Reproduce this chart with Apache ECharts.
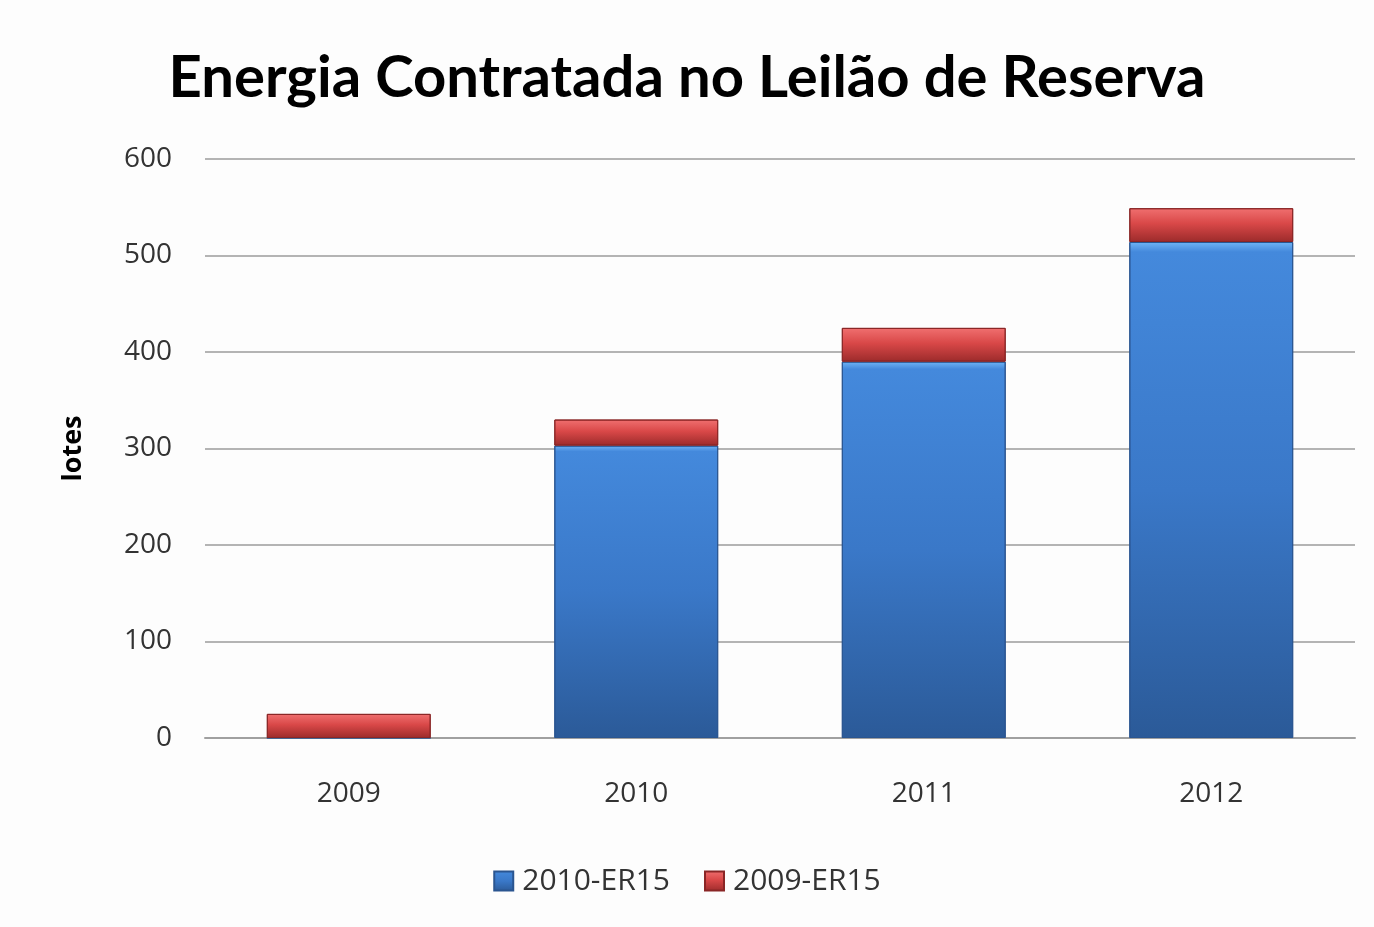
<!DOCTYPE html>
<html>
<head>
<meta charset="utf-8">
<script src="https://cdn.jsdelivr.net/npm/echarts@6/dist/echarts.min.js"></script>
<style>
  html, body { margin: 0; padding: 0; background: #fdfdfd; }
  #main { width: 1374px; height: 927px; }
</style>
</head>
<body>
<div id="main"></div>
<script>
// dados
var anos = ['2009', '2010', '2011', '2012']
var er2010 = [0, 303, 390, 514]
var er2009 = [25, 27, 35, 35]

var chart = echarts.init(document.getElementById('main'))

var azul = new echarts.graphic.LinearGradient(0, 0, 0, 1, [
  { offset: 0, color: '#70b4f5' },
  { offset: 0.02, color: '#4489dc' },
  { offset: 0.5, color: '#3a78c8' },
  { offset: 1, color: '#2b5a98' }
])
var vermelho = new echarts.graphic.LinearGradient(0, 0, 0, 1, [
  { offset: 0, color: '#f07070' },
  { offset: 0.45, color: '#d94848' },
  { offset: 1, color: '#9c2b2b' }
])

chart.setOption({
  backgroundColor: '#fdfdfd',
  title: {
    text: 'Energia Contratada no Leilão de Reserva',
    left: 'center',
    top: 44,
    textStyle: {
      fontFamily: 'Lato',
      fontWeight: 'bold',
      fontSize: 58,
      color: '#000'
    }
  },
  legend: {
    bottom: 26,
    left: 'center',
    itemWidth: 19,
    itemHeight: 19,
    itemGap: 34,
    icon: 'rect',
    textStyle: { fontFamily: 'Open Sans', fontSize: 30, color: '#333', padding: [0, 0, 0, 4] },
    data: ['2010-ER15', '2009-ER15']
  },
  grid: { left: 205, right: 19, top: 159, bottom: 189 },
  xAxis: {
    type: 'category',
    data: anos,
    axisLine: { lineStyle: { color: '#a0a0a0', width: 2 } },
    axisTick: { show: false },
    axisLabel: { fontFamily: 'Open Sans', fontSize: 28, color: '#333', margin: 42 }
  },
  yAxis: {
    type: 'value',
    min: 0,
    max: 600,
    interval: 100,
    name: 'lotes',
    nameLocation: 'middle',
    nameGap: 118,
    nameRotate: 90,
    nameTextStyle: { fontFamily: 'Open Sans', fontWeight: 'bold', fontSize: 27, color: '#000' },
    axisLine: { show: false },
    axisTick: { show: false },
    axisLabel: { fontFamily: 'Open Sans', fontSize: 28, color: '#333', margin: 33 },
    splitLine: { lineStyle: { color: '#b4b4b4', width: 2 } }
  },
  series: [
    {
      name: '2010-ER15',
      type: 'bar',
      stack: 'total',
      barWidth: '57%',
      itemStyle: { color: azul, borderColor: '#2a5590', borderWidth: 1 },
      data: er2010
    },
    {
      name: '2009-ER15',
      type: 'bar',
      stack: 'total',
      barWidth: '57%',
      itemStyle: { color: vermelho, borderColor: '#8a2626', borderWidth: 1 },
      data: er2009
    }
  ]
})
</script>
</body>
</html>
